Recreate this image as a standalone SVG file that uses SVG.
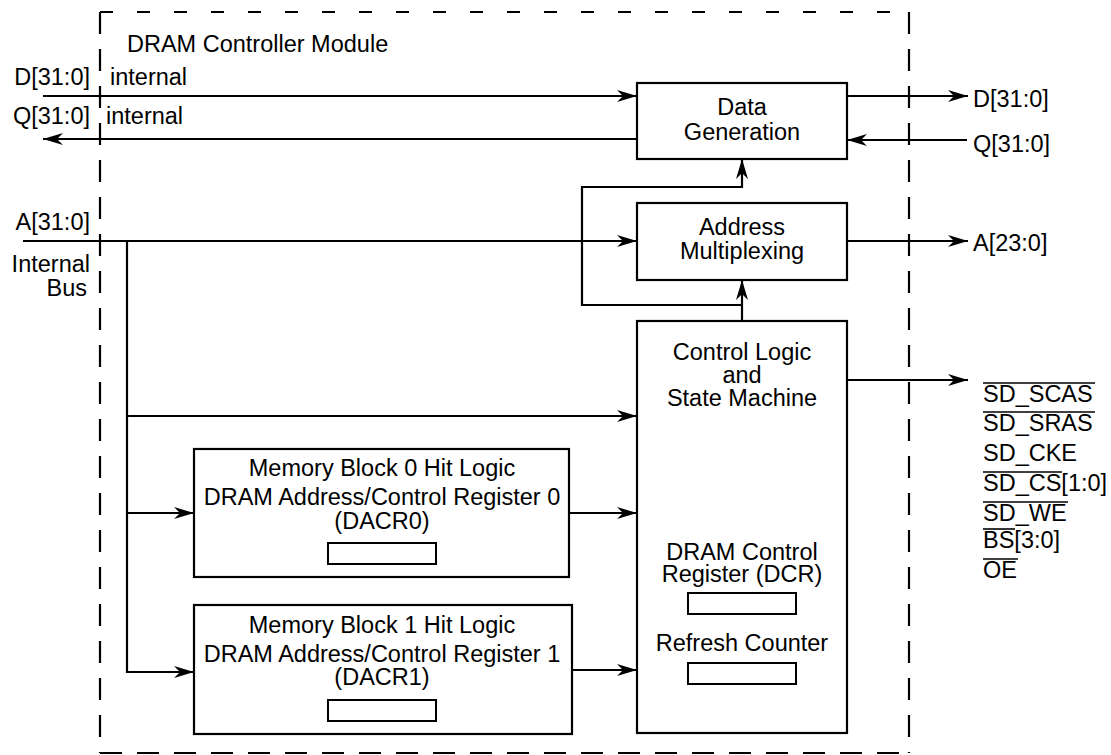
<svg xmlns="http://www.w3.org/2000/svg" width="1111" height="755" viewBox="0 0 1111 755">
<style>
text{font-family:"Liberation Sans",Arial,Helvetica,sans-serif;font-size:23.5px;fill:#000}
.c{text-anchor:middle}
.e{text-anchor:end}
.box{fill:#fff;stroke:#000;stroke-width:2.2}
.reg{fill:#fff;stroke:#000;stroke-width:2}
.ln{fill:none;stroke:#000;stroke-width:2.2}
.arr{marker-end:url(#ah)}
.dash{fill:none;stroke:#000;stroke-width:2.2;stroke-dasharray:22 15}
.dasht{fill:none;stroke:#000;stroke-width:2.2;stroke-dasharray:13 24}
.ov{stroke:#000;stroke-width:1.6}
</style>
<defs>
<marker id="ah" viewBox="0 0 20 12" refX="20" refY="6" markerWidth="20" markerHeight="12" orient="auto" markerUnits="userSpaceOnUse">
<path d="M0,0 L20,6 L0,12 L6,6 Z" fill="#000"/>
</marker>
</defs>
<rect width="1111" height="755" fill="#fff"/>
<g id="module-boundary">
<line class="dasht" x1="100" y1="12" x2="909" y2="12"/>
<line class="dash" x1="100" y1="12" x2="100" y2="753"/>
<line class="dash" x1="100" y1="753" x2="909" y2="753"/>
<line class="dash" x1="909" y1="12" x2="909" y2="753"/>
<text x="127" y="52">DRAM Controller Module</text>
</g>
<g id="connectors">
<line class="ln arr" x1="43" y1="96" x2="637" y2="96"/>
<line class="ln arr" x1="637" y1="139" x2="43" y2="139"/>
<line class="ln arr" x1="847" y1="96" x2="968" y2="96"/>
<line class="ln arr" x1="967" y1="140" x2="847" y2="140"/>
<line class="ln arr" x1="23" y1="241" x2="637" y2="241"/>
<line class="ln arr" x1="847" y1="241" x2="968" y2="241"/>
<line class="ln" x1="127" y1="241" x2="127" y2="673"/>
<line class="ln arr" x1="126" y1="416" x2="637" y2="416"/>
<line class="ln arr" x1="126" y1="513" x2="194" y2="513"/>
<line class="ln arr" x1="126" y1="672" x2="194" y2="672"/>
<line class="ln arr" x1="569" y1="513" x2="637" y2="513"/>
<line class="ln arr" x1="571" y1="670" x2="637" y2="670"/>
<line class="ln arr" x1="742" y1="321" x2="742" y2="280"/>
<path class="ln arr" d="M742,305 H582 V187 H742 V159"/>
<line class="ln arr" x1="847" y1="380" x2="968" y2="380"/>
</g>
<g id="external-labels">
<text class="e" x="90" y="85">D[31:0]</text>
<text x="110" y="85">internal</text>
<text class="e" x="90" y="124">Q[31:0]</text>
<text x="106" y="124">internal</text>
<text class="e" x="90" y="230">A[31:0]</text>
<text class="e" x="90" y="272">Internal</text>
<text class="e" x="87" y="296">Bus</text>
<text x="973" y="107">D[31:0]</text>
<text x="973" y="152">Q[31:0]</text>
<text x="973" y="251">A[23:0]</text>
</g>
<g id="sdram-signals">
<text x="983" y="402">SD_SCAS</text>
<line class="ov" x1="983" y1="383" x2="1095" y2="383"/>
<text x="983" y="431">SD_SRAS</text>
<line class="ov" x1="983" y1="412" x2="1095" y2="412"/>
<text x="983" y="461">SD_CKE</text>
<text x="983" y="491">SD_CS[1:0]</text>
<line class="ov" x1="983" y1="472" x2="1062" y2="472"/>
<text x="983" y="521">SD_WE</text>
<line class="ov" x1="983" y1="502" x2="1068" y2="502"/>
<text x="983" y="548">BS[3:0]</text>
<line class="ov" x1="983" y1="529" x2="1015" y2="529"/>
<text x="983" y="578">OE</text>
<line class="ov" x1="983" y1="559" x2="1018" y2="559"/>
</g>
<g id="data-generation">
<rect class="box" x="637" y="83" width="210" height="76"/>
<text class="c" x="742" y="115">Data</text>
<text class="c" x="742" y="140">Generation</text>
</g>
<g id="address-multiplexing">
<rect class="box" x="637" y="203" width="210" height="77"/>
<text class="c" x="742" y="235">Address</text>
<text class="c" x="742" y="259">Multiplexing</text>
</g>
<g id="control-logic">
<rect class="box" x="637" y="321" width="210" height="412"/>
<text class="c" x="742" y="360">Control Logic</text>
<text class="c" x="742" y="383">and</text>
<text class="c" x="742" y="406">State Machine</text>
<text class="c" x="742" y="560">DRAM Control</text>
<text class="c" x="742" y="582">Register (DCR)</text>
<rect class="reg" x="688" y="593" width="108" height="21"/>
<text class="c" x="742" y="651">Refresh Counter</text>
<rect class="reg" x="688" y="663" width="108" height="21"/>
</g>
<g id="memory-block-0">
<rect class="box" x="194" y="449" width="375" height="128"/>
<text class="c" x="382" y="476">Memory Block 0 Hit Logic</text>
<text class="c" x="382" y="505">DRAM Address/Control Register 0</text>
<text class="c" x="382" y="529">(DACR0)</text>
<rect class="reg" x="328" y="543" width="108" height="21"/>
</g>
<g id="memory-block-1">
<rect class="box" x="194" y="605" width="378" height="129"/>
<text class="c" x="382" y="633">Memory Block 1 Hit Logic</text>
<text class="c" x="382" y="662">DRAM Address/Control Register 1</text>
<text class="c" x="382" y="685">(DACR1)</text>
<rect class="reg" x="328" y="700" width="108" height="21"/>
</g>
</svg>
